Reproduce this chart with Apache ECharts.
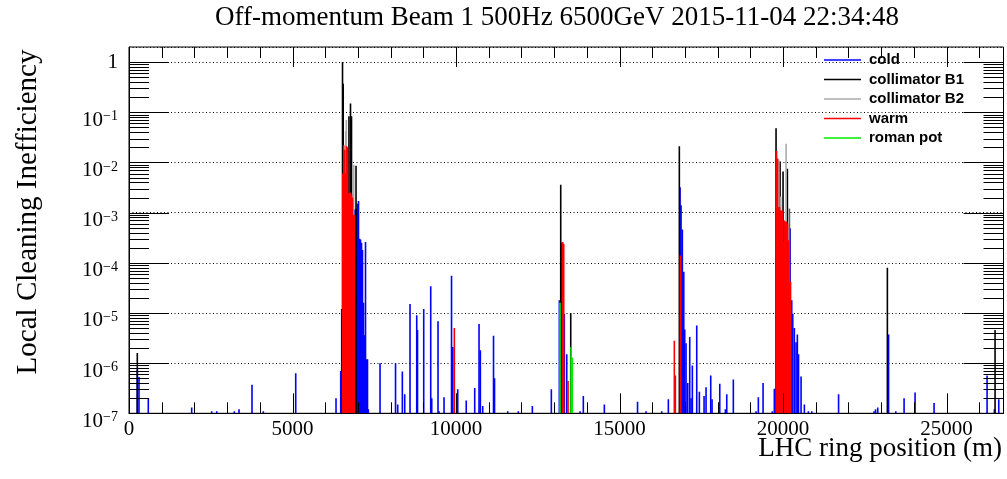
<!DOCTYPE html>
<html>
<head>
<meta charset="utf-8">
<script src="https://cdn.jsdelivr.net/npm/echarts@6/dist/echarts.min.js"></script>
<style>
html, body { margin: 0; padding: 0; background: #fff; }
#chart { width: 1007px; height: 479px; }
</style>
</head>
<body>
<div id="chart"></div>
<script>
// Loss map: [position along the ring in metres, local cleaning inefficiency]
const cold = [
  [254, 7.5e-7], [306, 5.3e-7], [590, 2e-7], [1917, 1.3e-7], [2529, 1.1e-7], [2682, 1.1e-7],
  [3220, 1.1e-7], [3364, 1.2e-7], [3761, 3.7e-7], [4107, 1.1e-7], [5098, 6.3e-7], [6330, 2e-7],
  [6474, 7e-7], [6504, 1.2e-5], [6896, 1.15e-3], [6926, 1.15e-3], [6957, 1.2e-3], [6988, 1.5e-3],
  [7018, 1.7e-3], [7049, 3e-4], [7079, 2.9e-4], [7110, 2.5e-4], [7140, 1.8e-4], [7171, 1.6e-5],
  [7202, 3.6e-6], [7232, 2.6e-4], [7263, 1.2e-6], [7293, 1.2e-6], [7318, 1.2e-7],
  [7676, 1e-6], [8150, 1e-6], [8217, 1.5e-7], [8358, 6.8e-7], [8431, 2.4e-7], [8593, 1.5e-5],
  [8798, 9e-6], [8822, 4.6e-6], [9012, 1.2e-5], [9226, 3.4e-5], [9257, 2e-7], [9449, 6.8e-6],
  [9480, 1.1e-7], [9633, 2.1e-7], [9862, 5.5e-5], [9902, 2.1e-6], [10052, 3e-7], [10312, 1.8e-7],
  [10571, 3.2e-7], [10703, 6e-6], [10743, 1.8e-6], [10816, 1.4e-7], [11146, 3.5e-6], [11177, 5e-7],
  [11581, 1.1e-7], [11905, 1.1e-7], [12333, 1.4e-7], [12914, 3e-7],
  [13159, 1.8e-5], [13211, 2.5e-4], [13311, 9.6e-6], [13385, 1.5e-6], [13792, 1.1e-7], [13892, 2.2e-7],
  [14535, 1.5e-7], [15550, 1.7e-7], [15810, 1.1e-7], [16290, 1.1e-7], [16492, 1.9e-7],
  [16850, 3.2e-3], [16880, 1.4e-3], [16920, 4.6e-4], [16963, 6.6e-5], [16993, 4.7e-6], [17033, 2.5e-6],
  [17085, 4e-7], [17146, 3.3e-6], [17186, 2e-7], [17226, 9e-7], [17360, 5.6e-6], [17440, 2.7e-7],
  [17584, 2.2e-7], [17645, 3.3e-7], [17788, 5.7e-7], [17828, 1.9e-7], [18064, 3.9e-7], [18235, 1.2e-7],
  [18278, 2.4e-7], [18479, 4.7e-7], [19174, 1.1e-7], [19244, 2.1e-7], [19388, 4e-7],
  [19672, 1.1e-7], [19733, 3.1e-7], [20213, 4.9e-4], [20265, 1.8e-5], [20296, 9.6e-6], [20345, 5e-6],
  [20397, 2.6e-6], [20437, 3.7e-6], [20473, 1.5e-6], [20550, 5.4e-7], [20651, 1.5e-7], [20773, 1.1e-7],
  [20877, 1.1e-7], [21697, 2.4e-7],
  [22782, 1.1e-7], [22828, 1.2e-7], [22895, 1.3e-7], [23204, 8.7e-7], [23226, 3.7e-6], [23446, 1.1e-7],
  [23700, 2e-7], [24036, 2.6e-7], [24617, 1.6e-7], [26238, 5.7e-7], [26461, 1.2e-7], [26595, 1.9e-7]
];

const collimatorB1 = [
  [254, 1.6e-6], [6529, 1.0], [6550, 0.37], [6725, 0.083], [6773, 0.15], [6804, 0.083], [6942, 8.6e-3],
  [13201, 3.6e-3], [13507, 1e-5], [16828, 0.021],
  [19785, 0.048], [19908, 0.0105], [19999, 6.6e-3], [20131, 7.5e-3], [20192, 1.2e-3],
  [23189, 8e-5], [26482, 4.6e-6]
];

const collimatorB2 = [
  [6627, 0.042], [6645, 0.07], [6871, 9e-3],
  [19868, 0.0114], [19929, 2.1e-3], [20091, 0.0236], [20174, 1.2e-3]
];

const warm = [
  [6538, 6e-3], [6566, 0.022], [6593, 0.018], [6620, 6e-3], [6651, 0.021], [6682, 0.02], [6712, 2.4e-3],
  [6743, 2.5e-3], [6773, 2.5e-3], [6804, 2.3e-3], [6835, 2e-3], [6865, 9e-4], [6890, 9e-4],
  [9948, 5e-6], [13263, 2.6e-4], [13293, 2.4e-4], [13425, 4.4e-7],
  [16675, 2.8e-6], [16706, 5.7e-7], [16859, 1.4e-4],
  [19801, 0.017], [19831, 0.012], [19862, 1.3e-3], [19892, 1.3e-3], [19923, 1.1e-3], [19953, 1.1e-3],
  [19984, 1.1e-3], [20015, 2.6e-4], [20045, 7e-4], [20076, 6.6e-4], [20106, 6.6e-4], [20137, 6e-4],
  [20167, 2.8e-4], [20198, 4.3e-5], [20229, 4.2e-5]
];

const romanPot = [[13180, 1.6e-5], [13516, 2.1e-6], [13556, 1.3e-6]];

const seriesNames = ['cold', 'collimator B1', 'collimator B2', 'warm', 'roman pot'];
const seriesColors = ['#0000ff', '#000000', '#aaaaaa', '#ff0000', '#00ee00'];

// Axis ranges and tick positions
const X_MIN = 0, X_MAX = 26740;
const Y_MIN = 1e-7, Y_MAX = 2;
const xMajorTicks = [0, 5000, 10000, 15000, 20000, 25000];
const xMinorTicks = [1000, 2000, 3000, 4000, 6000, 7000, 8000, 9000, 11000, 12000, 13000, 14000,
  16000, 17000, 18000, 19000, 21000, 22000, 23000, 24000, 26000];
const yDecades = [1e-7, 1e-6, 1e-5, 1e-4, 1e-3, 1e-2, 1e-1, 1];
const yMinorSteps = [2, 3, 4, 5, 6, 7, 8, 9];
const yMinorTicks = yDecades.slice(0, -1).flatMap(d => yMinorSteps.map(k => k * d));

const BAR_W = 1.6;
const SERIF = 'Liberation Serif';
const TICK_X_MAJOR = 20, TICK_X_MINOR = 11, TICK_Y_MAJOR = 40, TICK_Y_MINOR = 20;

function histSeries(name, data, color) {
  return {
    name: name,
    type: 'custom',
    data: data,
    clip: true,
    itemStyle: { color: color },
    encode: { x: 0, y: 1 },
    renderItem: function (params, api) {
      const x = api.value(0);
      const top = api.coord([x, api.value(1)]);
      const base = api.coord([x, Y_MIN]);
      return {
        type: 'rect',
        shape: { x: top[0] - BAR_W / 2, y: top[1], width: BAR_W, height: base[1] - top[1] },
        style: { fill: color }
      };
    }
  };
}

// Inward-pointing ticks on all four sides of the frame, placed through the axis scales
const frameTicks = {
  name: 'frame ticks',
  type: 'custom',
  silent: true,
  clip: false,
  z: 4,
  data: [[X_MIN, Y_MIN]],
  encode: { x: 0, y: 1 },
  renderItem: function (params, api) {
    const cs = params.coordSys;
    const left = cs.x, right = cs.x + cs.width, top = cs.y, bottom = cs.y + cs.height;
    const children = [];
    const seg = (x1, y1, x2, y2) => children.push({
      type: 'line', shape: { x1: x1, y1: y1, x2: x2, y2: y2 },
      style: { stroke: '#000', lineWidth: 1 }
    });
    const px = v => Math.round(api.coord([v, Y_MIN])[0]) + 0.5;
    const py = v => Math.round(api.coord([X_MIN, v])[1]) + 0.5;
    xMajorTicks.forEach(v => { const x = px(v); seg(x, bottom, x, bottom - TICK_X_MAJOR); seg(x, top, x, top + TICK_X_MAJOR); });
    xMinorTicks.forEach(v => { const x = px(v); seg(x, bottom, x, bottom - TICK_X_MINOR); seg(x, top, x, top + TICK_X_MINOR); });
    yDecades.forEach(v => { const y = py(v); seg(left, y, left + TICK_Y_MAJOR, y); seg(right, y, right - TICK_Y_MAJOR, y); });
    yMinorTicks.forEach(v => { const y = py(v); seg(left, y, left + TICK_Y_MINOR, y); seg(right, y, right - TICK_Y_MINOR, y); });
    return { type: 'group', children: children };
  }
};

const chart = echarts.init(document.getElementById('chart'), null, { renderer: 'canvas' });

chart.setOption({
  backgroundColor: '#ffffff',
  animation: false,
  grid: {
    left: 129, top: 47, width: 874.5, height: 366.3,
    show: true, borderColor: '#000', borderWidth: 1, backgroundColor: 'transparent'
  },
  legend: {
    orient: 'vertical', left: 824, top: 52.5, padding: 0, itemGap: 4.5,
    itemWidth: 37, itemHeight: 1.5, icon: 'rect', selectedMode: false,
    data: seriesNames,
    textStyle: {
      fontFamily: 'Liberation Sans', fontWeight: 'bold', fontSize: 15, color: '#000',
      lineHeight: 14, padding: [0, 0, 0, 3]
    }
  },
  xAxis: {
    type: 'value', min: X_MIN, max: X_MAX, interval: 5000, position: 'bottom',
    axisLine: { show: true, lineStyle: { color: '#000', width: 1 } },
    axisTick: { show: false },
    axisLabel: {
      show: true, margin: 6, showMaxLabel: false, color: '#000',
      fontFamily: SERIF, fontSize: 21,
      formatter: function (v) { return String(v); }
    },
    splitLine: { show: false }
  },
  yAxis: {
    type: 'log', min: Y_MIN, max: Y_MAX, logBase: 10, position: 'left',
    axisLine: { show: true, lineStyle: { color: '#000', width: 1 } },
    axisTick: { show: false },
    axisLabel: {
      show: true, margin: 11, showMaxLabel: false, color: '#000',
      formatter: function (v) {
        const e = Math.round(Math.log10(v));
        if (e === 0) return '{one|1}';
        return '{b|10}{s|' + String(e).replace('-', '\u2212') + '}';
      },
      rich: {
        one: { fontFamily: SERIF, fontSize: 21, color: '#000' },
        b: { fontFamily: SERIF, fontSize: 21, lineHeight: 21, padding: [16, 0, 0, 0], color: '#000' },
        s: { fontFamily: SERIF, fontSize: 14, lineHeight: 14, verticalAlign: 'top', padding: [8, 0, 0, 0], color: '#000' }
      }
    },
    splitLine: { show: true, lineStyle: { color: '#000', width: 1, type: [1, 2.5] } }
  },
  graphic: [
    {
      type: 'text', x: 557, y: 18,
      style: {
        text: 'Off-momentum Beam 1 500Hz 6500GeV 2015-11-04 22:34:48',
        fontFamily: SERIF, fontSize: 27, fill: '#000', textAlign: 'center', textVerticalAlign: 'middle'
      }
    },
    {
      type: 'text', x: 28, y: 212, rotation: Math.PI / 2,
      style: {
        text: 'Local Cleaning Inefficiency',
        fontFamily: SERIF, fontSize: 29, fill: '#000', textAlign: 'center', textVerticalAlign: 'middle'
      }
    },
    {
      type: 'text', x: 1002, y: 449,
      style: {
        text: 'LHC ring position (m)',
        fontFamily: SERIF, fontSize: 27, fill: '#000', textAlign: 'right', textVerticalAlign: 'middle'
      }
    }
  ],
  series: [
    histSeries(seriesNames[0], cold, seriesColors[0]),
    histSeries(seriesNames[1], collimatorB1, seriesColors[1]),
    histSeries(seriesNames[2], collimatorB2, seriesColors[2]),
    histSeries(seriesNames[3], warm, seriesColors[3]),
    histSeries(seriesNames[4], romanPot, seriesColors[4]),
    frameTicks
  ]
});
</script>
</body>
</html>
